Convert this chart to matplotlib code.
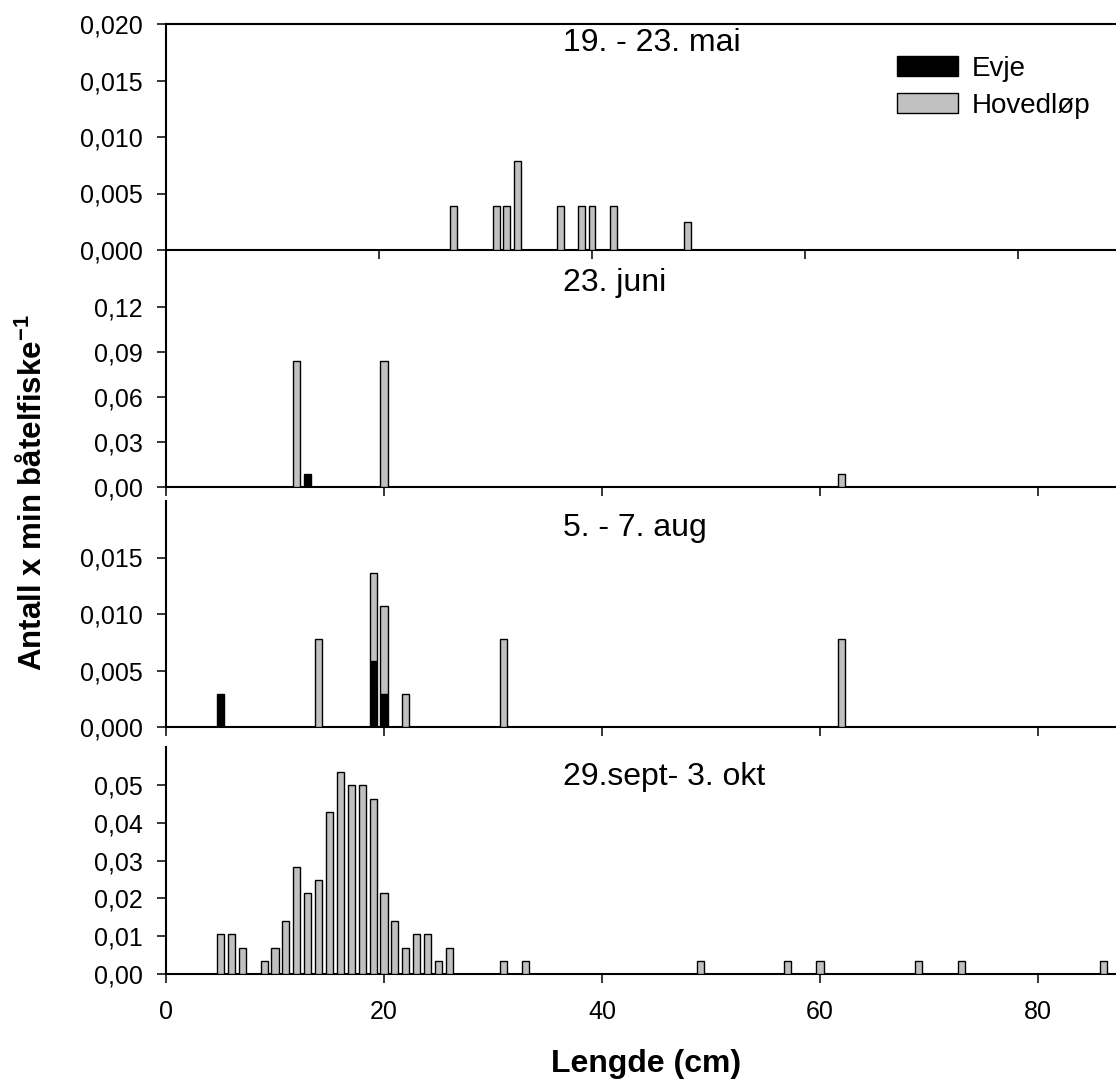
import matplotlib
matplotlib.use("Agg")
import matplotlib.pyplot as plt
from matplotlib.ticker import FixedLocator, FuncFormatter
from matplotlib.patches import Patch

plt.rcParams['font.family'] = ['Liberation Sans', 'DejaVu Sans']
plt.rcParams['mathtext.fontset'] = 'custom'
plt.rcParams['mathtext.rm'] = 'Liberation Sans'
plt.rcParams['mathtext.bf'] = 'Liberation Sans:bold'

# ---------------- data ----------------
titles = ["19. - 23. mai", "23. juni", "5. - 7. aug", "29.sept- 3. okt"]

mai_hoved_x = [27, 31, 32, 33, 37, 39, 40, 42, 49]
mai_hoved_y = [0.0039, 0.0039, 0.0039, 0.0079, 0.0039, 0.0039, 0.0039, 0.0039, 0.0025]

juni_hoved_x = [12, 20, 62]
juni_hoved_y = [0.084, 0.084, 0.0089]
juni_evje_x = [13]
juni_evje_y = [0.0089]

aug_evje_x = [5, 19, 20]
aug_evje_y = [0.0029, 0.0058, 0.0029]
aug_hoved_x = [14, 19, 20, 22, 31, 62]
aug_hoved_y = [0.0078, 0.0078, 0.0078, 0.0029, 0.0078, 0.0078]

okt_hoved_x = [5, 6, 7, 9, 10, 11, 12, 13, 14, 15, 16, 17, 18, 19, 20, 21, 22, 23, 24,
               25, 26, 31, 33, 49, 57, 60, 69, 73, 86]
okt_hoved_y = [0.0105, 0.0105, 0.0070, 0.0035, 0.0070, 0.0141, 0.0284, 0.0213, 0.0248,
               0.0427, 0.0534, 0.0499, 0.0499, 0.0462, 0.0213, 0.0141, 0.0070, 0.0105,
               0.0105, 0.0035, 0.0070, 0.0035, 0.0035, 0.0035, 0.0035, 0.0035, 0.0035,
               0.0035, 0.0035]

ytick_sets = [[0, 0.005, 0.010, 0.015, 0.020],
              [0, 0.03, 0.06, 0.09, 0.12],
              [0, 0.005, 0.010, 0.015],
              [0, 0.01, 0.02, 0.03, 0.04, 0.05]]
ytick_decimals = [3, 2, 3, 2]
ylims = [0.020, 0.158, 0.020, 0.060]
xticks = [0, 20, 40, 60, 80]

# ---------------- layout ----------------
W, H = 1116, 1084
fig = plt.figure(figsize=(W / 100, H / 100), dpi=100)

left_px = 166
panels_px = [(24, 250), (250, 487), (501, 727), (747, 974)]
title_y_px = [43, 283, 528, 777]
xmax = [(W - left_px) / 10.65, (W - left_px) / 10.9, (W - left_px) / 10.9, (W - left_px) / 10.9]

GRAY = '#c0c0c0'
BW = 0.65
EDGE_LW = 1.0

axes = []
for i, (top, bot) in enumerate(panels_px):
    ax = fig.add_axes([left_px / W, 1 - bot / H, (W - left_px) / W, (bot - top) / H])
    ax.set_xlim(0, xmax[i])
    ax.set_ylim(0, ylims[i])
    ax.patch.set_alpha(0)
    ax.spines['right'].set_visible(False)
    if i > 0:
        ax.spines['top'].set_visible(False)
    for s in ax.spines.values():
        s.set_linewidth(1.5)
    ax.xaxis.set_major_locator(FixedLocator(xticks))
    ax.yaxis.set_major_locator(FixedLocator(ytick_sets[i]))
    d = ytick_decimals[i]
    ax.yaxis.set_major_formatter(FuncFormatter(lambda v, p, d=d: f"{v:.{d}f}".replace('.', ',')))
    ax.tick_params(axis='both', direction='out', length=6.8, width=1.1, labelsize=18)
    ax.tick_params(axis='y', pad=10)
    ax.tick_params(axis='x', pad=12)
    if i < 3:
        ax.tick_params(axis='x', labelbottom=False)
    ax.text(563 / W, 1 - title_y_px[i] / H, titles[i], transform=fig.transFigure,
            ha='left', va='center', fontsize=23)
    axes.append(ax)

bar_kw = dict(width=BW, edgecolor='black', linewidth=EDGE_LW, zorder=3)

# panel 1
axes[0].bar(mai_hoved_x, mai_hoved_y, color=GRAY, **bar_kw)
# panel 2
axes[1].bar(juni_hoved_x, juni_hoved_y, color=GRAY, **bar_kw)
axes[1].bar(juni_evje_x, juni_evje_y, color='black', **bar_kw)
# panel 3 (stacked: Evje bottom, Hovedløp on top)
evje_lookup = dict(zip(aug_evje_x, aug_evje_y))
aug_bottom = [evje_lookup.get(x, 0) for x in aug_hoved_x]
axes[2].bar(aug_evje_x, aug_evje_y, color='black', **bar_kw)
axes[2].bar(aug_hoved_x, aug_hoved_y, bottom=aug_bottom, color=GRAY, **bar_kw)
# panel 4
axes[3].bar(okt_hoved_x, okt_hoved_y, color=GRAY, **bar_kw)

# legend
handles = [Patch(facecolor='black', edgecolor='black', linewidth=1.0, label='Evje'),
           Patch(facecolor=GRAY, edgecolor='black', linewidth=1.0, label='Hovedløp')]
fig.legend(handles=handles, loc='upper left',
           bbox_to_anchor=(897 / W, 1 - 56 / H), bbox_transform=fig.transFigure,
           frameon=False, fontsize=20, handlelength=2.2, handleheight=0.72,
           handletextpad=0.5, labelspacing=0.4, borderpad=0, borderaxespad=0)

# axis labels
fig.text(33 / W, 1 - 493 / H, r'Antall x min båtelfiske$^{\mathbf{-1}}$',
         rotation=90, ha='center', va='center', fontsize=22.5, fontweight='bold')
fig.text(646 / W, 1 - 1064 / H, 'Lengde (cm)', ha='center', va='center',
         fontsize=23, fontweight='bold')

fig.savefig('out.png', dpi=100)
